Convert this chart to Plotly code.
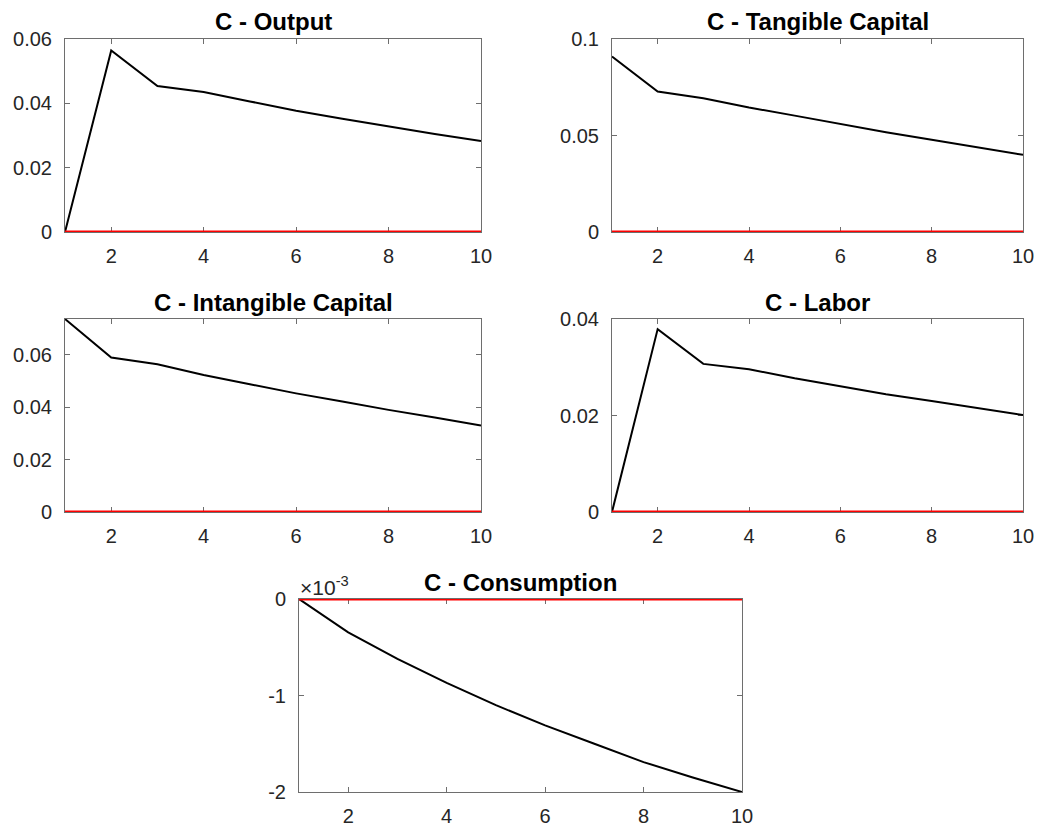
import plotly.graph_objects as go

periods = [1, 2, 3, 4, 5, 6, 7, 8, 9, 10]

output = [0.0, 0.0564, 0.0454, 0.04355, 0.0406, 0.0377, 0.0352, 0.0328, 0.0305, 0.0283]
tangible_capital = [0.0909, 0.0728, 0.0693, 0.0645, 0.0603, 0.0559, 0.0517, 0.0478, 0.0438, 0.0400]
intangible_capital = [0.0737, 0.0590, 0.0564, 0.0523, 0.0488, 0.0453, 0.0422, 0.0390, 0.0361, 0.0330]
labor = [0.0, 0.0379, 0.0307, 0.0296, 0.0277, 0.0260, 0.0244, 0.0230, 0.0215, 0.0201]
consumption = [0.0, -0.000345, -0.00062, -0.00087, -0.00110, -0.00131, -0.00150, -0.00169, -0.00185, -0.00200]
zero_line = [0.0] * 10

titles = ["C - Output", "C - Tangible Capital", "C - Intangible Capital", "C - Labor", "C - Consumption"]
series = [output, tangible_capital, intangible_capital, labor, consumption]

y_ranges = [[0, 0.06], [0, 0.1], [0, 0.0737], [0, 0.04], [-0.002, 0]]
y_tickvals = [[0, 0.02, 0.04, 0.06], [0, 0.05, 0.1], [0, 0.02, 0.04, 0.06], [0, 0.02, 0.04], [-0.002, -0.001, 0]]
y_ticktext = [["0", "0.02", "0.04", "0.06"], ["0", "0.05", "0.1"], ["0", "0.02", "0.04", "0.06"],
              ["0", "0.02", "0.04"], ["-2", "-1", "0"]]
x_tickvals = [2, 4, 6, 8, 10]
x_ticktext = ["2", "4", "6", "8", "10"]

# The page body has an 8px margin: figure is drawn at (8, 8) in the window.
OFF = 8
W, H = 1050 - OFF, 830 - OFF
# pixel boxes in window coordinates: (left, right, top, bottom)
boxes = [(65, 481, 39, 232), (612, 1023, 39, 232), (65, 481, 319, 512), (612, 1023, 319, 512), (299, 742, 599, 792)]


def px(xw):
    return (xw - OFF) / W


def py(yw):
    return 1 - (yw - OFF) / H


FONT = "Liberation Sans, Arial, Helvetica, sans-serif"
AX_COLOR = "#6e6e6e"
TXT = "#262626"

fig = go.Figure()
annotations = []
for i, (t, s, b) in enumerate(zip(titles, series, boxes)):
    n = i + 1
    xa = "x" if n == 1 else f"x{n}"
    ya = "y" if n == 1 else f"y{n}"
    fig.add_trace(go.Scatter(x=periods, y=s, mode="lines", line=dict(color="black", width=2),
                             xaxis=xa, yaxis=ya, showlegend=False, hoverinfo="skip"))
    fig.add_trace(go.Scatter(x=periods, y=zero_line, mode="lines", line=dict(color="#ff0000", width=3.2),
                             xaxis=xa, yaxis=ya, showlegend=False, hoverinfo="skip"))
    l, r, tp, bt = b
    common = dict(showline=True, linecolor=AX_COLOR, linewidth=1, mirror="ticks", ticks="inside",
                  ticklen=5, tickcolor=AX_COLOR, tickwidth=1, showgrid=False, zeroline=False,
                  tickfont=dict(family=FONT, size=20, color=TXT), layer="below traces")
    fig.layout[("xaxis" if n == 1 else f"xaxis{n}")] = dict(
        domain=[px(l), px(r)], anchor=ya, range=[1, 10], tickvals=x_tickvals, ticktext=x_ticktext,
        ticklabelstandoff=6, **common)
    fig.layout[("yaxis" if n == 1 else f"yaxis{n}")] = dict(
        domain=[py(bt), py(tp)], anchor=xa, range=y_ranges[i], tickvals=y_tickvals[i],
        ticktext=y_ticktext[i], ticklabelstandoff=8, **common)
    annotations.append(dict(text=f"<b>{t}</b>", x=px((l + r) / 2), y=py(tp - 17), xref="paper", yref="paper",
                            xanchor="center", yanchor="middle", showarrow=False,
                            font=dict(family=FONT, size=24, color="black")))

annotations.append(dict(text="×10<sup>-3</sup>", x=px(298), y=py(586), xref="paper", yref="paper",
                        xanchor="left", yanchor="middle", showarrow=False,
                        font=dict(family=FONT, size=21, color=TXT)))

fig.update_layout(width=W, height=H, margin=dict(l=0, r=0, t=0, b=0, autoexpand=False), plot_bgcolor="white",
                  paper_bgcolor="white", annotations=annotations)

fig.write_html("out.html", config={"displayModeBar": False})
